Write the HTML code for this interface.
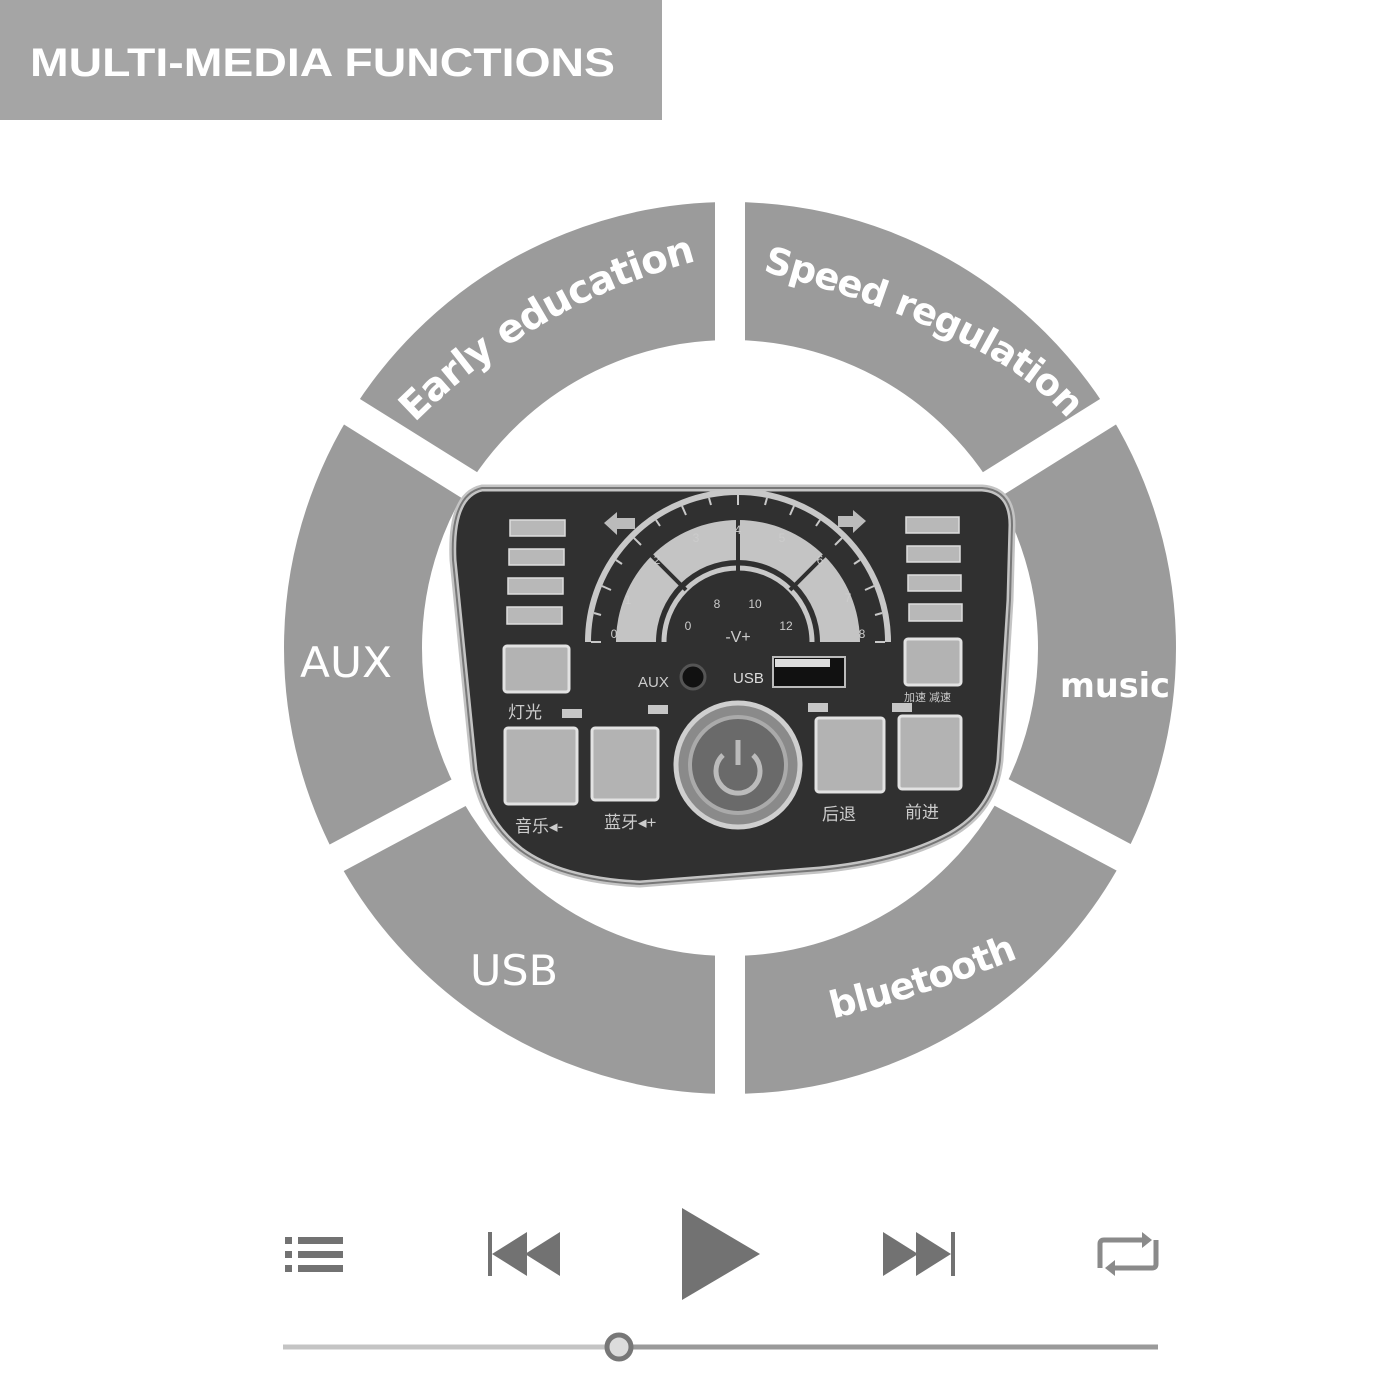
<!DOCTYPE html>
<html><head><meta charset="utf-8"><style>
html,body{margin:0;padding:0;background:#fff;width:1400px;height:1400px;overflow:hidden}
svg{display:block}
</style></head><body>
<svg width="1400" height="1400" viewBox="0 0 1400 1400" xmlns="http://www.w3.org/2000/svg" font-family="'Liberation Sans','Noto Sans CJK SC',sans-serif">
<rect width="1400" height="1400" fill="#fff"/>
<rect x="0" y="0" width="662" height="120" fill="#a5a5a5"/>
<text x="30" y="76" font-size="40" font-weight="bold" fill="#fff" textLength="585" lengthAdjust="spacingAndGlyphs">MULTI-MEDIA FUNCTIONS</text>

<!-- ring -->
<circle cx="730" cy="648" r="377" fill="none" stroke="#9b9b9b" stroke-width="138"/>
<g stroke="#fff" stroke-width="30">
<line x1="730" y1="648" x2="730" y2="180"/>
<line x1="730" y1="648" x2="730" y2="1120"/>
<line x1="730" y1="648" x2="330" y2="398"/>
<line x1="730" y1="648" x2="310" y2="872"/>
<line x1="730" y1="648" x2="1130" y2="398"/>
<line x1="730" y1="648" x2="1140" y2="866"/>
</g>
<defs>
<path id="pEarly" d="M 400 438 Q 530 300 716 256"/>
<path id="pSpeed" d="M 758 270 Q 999 333 1070 422"/>
<path id="pBlue" d="M 818 1022 Q 925 998 1032 952"/>
</defs>
<g font-weight="bold" fill="#fff" text-anchor="middle" font-family="'DejaVu Sans',sans-serif">
<text font-size="39" letter-spacing="-1"><textPath href="#pEarly" startOffset="50%">Early education</textPath></text>
<text font-size="37" letter-spacing="-1"><textPath href="#pSpeed" startOffset="50%">Speed regulation</textPath></text>
<text font-size="37" letter-spacing="-1"><textPath href="#pBlue" startOffset="50%">bluetooth</textPath></text>
</g>
<text x="300" y="677" font-size="42" fill="#fff" font-family="'DejaVu Sans',sans-serif" textLength="92" lengthAdjust="spacingAndGlyphs">AUX</text>
<text x="470" y="985" font-size="42" fill="#fff" font-family="'DejaVu Sans',sans-serif" textLength="88" lengthAdjust="spacingAndGlyphs">USB</text>
<text x="1060" y="697" font-size="34" font-weight="bold" fill="#fff" font-family="'DejaVu Sans',sans-serif" textLength="110" lengthAdjust="spacingAndGlyphs">music</text>

<!-- panel -->
<path d="M 482 488 L 982 488 Q 1012 490 1012 525 L 1010 600 L 1000 760 Q 995 810 950 835 Q 900 862 820 870 L 640 884 Q 560 880 520 850 Q 482 820 474 770 L 453 560 Q 450 495 482 488 Z" fill="#303030" stroke="#c4c4c4" stroke-width="7"/>
<path d="M 482 488 L 982 488 Q 1012 490 1012 525 L 1010 600 L 1000 760 Q 995 810 950 835 Q 900 862 820 870 L 640 884 Q 560 880 520 850 Q 482 820 474 770 L 453 560 Q 450 495 482 488 Z" fill="none" stroke="#777" stroke-width="2"/>

<!-- bars -->
<g fill="#b8b8b8" stroke="#ddd" stroke-width="1.5">
<rect x="510" y="520" width="55" height="16"/><rect x="509" y="549" width="55" height="16"/><rect x="508" y="578" width="55" height="16"/><rect x="507" y="607" width="55" height="17"/>
<rect x="906" y="517" width="53" height="16"/><rect x="907" y="546" width="53" height="16"/><rect x="908" y="575" width="53" height="16"/><rect x="909" y="604" width="53" height="17"/>
</g>
<!-- arrows -->
<path d="M 604 523 L 617 512 L 617 518 L 635 518 L 635 529 L 617 529 L 617 535 Z" fill="#bbb"/>
<path d="M 866 521 L 853 510 L 853 516 L 838 516 L 838 527 L 853 527 L 853 533 Z" fill="#bbb"/>

<!-- gauge -->
<g transform="translate(738,642)">
<path d="M -150 0 A 150 150 0 0 1 150 0" fill="none" stroke="#c8c8c8" stroke-width="6"/>
<path d="M -122 0 A 122 122 0 0 1 122 0 L 82 0 A 82 82 0 0 0 -82 0 Z" fill="#c4c4c4"/>
<path d="M -74 0 A 74 74 0 0 1 74 0" fill="none" stroke="#c8c8c8" stroke-width="5"/>
<g stroke="#303030" stroke-width="4">
<line x1="0" y1="-70" x2="0" y2="-126"/>
<line x1="-52" y1="-52" x2="-88" y2="-88"/>
<line x1="52" y1="-52" x2="88" y2="-88"/>
</g>
<g stroke="#c8c8c8" stroke-width="2">
<line x1="0" y1="-147" x2="0" y2="-137"/><line x1="-56" y1="-136" x2="-52" y2="-127"/><line x1="56" y1="-136" x2="52" y2="-127"/>
<line x1="-104" y1="-104" x2="-97" y2="-97"/><line x1="104" y1="-104" x2="97" y2="-97"/>
<line x1="-136" y1="-56" x2="-127" y2="-52"/><line x1="136" y1="-56" x2="127" y2="-52"/>
<line x1="-147" y1="0" x2="-137" y2="0"/><line x1="147" y1="0" x2="137" y2="0"/>
<line x1="-29" y1="-144" x2="-27" y2="-137"/><line x1="29" y1="-144" x2="27" y2="-137"/>
<line x1="-82" y1="-122" x2="-78" y2="-116"/><line x1="82" y1="-122" x2="78" y2="-116"/>
<line x1="-122" y1="-82" x2="-116" y2="-78"/><line x1="122" y1="-82" x2="116" y2="-78"/>
<line x1="-144" y1="-29" x2="-137" y2="-27"/><line x1="144" y1="-29" x2="137" y2="-27"/>
</g>
<g font-size="12" fill="#ccc" text-anchor="middle">
<text x="-124" y="-4">0</text><text x="-110" y="-38">1</text><text x="-81" y="-78">2</text><text x="-42" y="-100">3</text><text x="0" y="-108">4</text><text x="44" y="-100">5</text><text x="82" y="-78">6</text><text x="110" y="-40">7</text><text x="124" y="-4">8</text>
<text x="-50" y="-12">0</text><text x="-21" y="-34">8</text><text x="17" y="-34">10</text><text x="48" y="-12">12</text>
</g>
<text x="0" y="0" font-size="16" fill="#ccc" text-anchor="middle">-V+</text>
</g>

<!-- aux usb -->
<text x="638" y="687" font-size="15" fill="#ccc">AUX</text>
<circle cx="693" cy="677" r="12" fill="#111" stroke="#555" stroke-width="3"/>
<text x="733" y="683" font-size="15" fill="#ddd">USB</text>
<rect x="773" y="657" width="72" height="30" fill="#111" stroke="#bbb" stroke-width="2"/>
<rect x="775" y="659" width="55" height="8" fill="#ddd"/>

<!-- buttons -->
<g fill="#b3b3b3" stroke="#e2e2e2" stroke-width="3">
<rect x="504" y="646" width="65" height="46" rx="3"/>
<rect x="905" y="639" width="56" height="46" rx="3"/>
<rect x="505" y="728" width="72" height="76" rx="3"/>
<rect x="592" y="728" width="66" height="72" rx="3"/>
<rect x="816" y="718" width="68" height="74" rx="3"/>
<rect x="899" y="716" width="62" height="73" rx="3"/>
</g>
<g fill="#c6c6c6">
<rect x="562" y="709" width="20" height="9"/><rect x="648" y="705" width="20" height="9"/><rect x="808" y="703" width="20" height="9"/><rect x="892" y="703" width="20" height="9"/>
</g>
<circle cx="738" cy="765" r="62" fill="#8a8a8a" stroke="#cfcfcf" stroke-width="5"/>
<circle cx="738" cy="765" r="48" fill="#6a6a6a" stroke="#aaa" stroke-width="4"/>
<path d="M 723 755 A 22 22 0 1 0 753 755" fill="none" stroke="#bbb" stroke-width="5"/>
<line x1="738" y1="740" x2="738" y2="765" stroke="#bbb" stroke-width="5"/>

<g font-size="17" fill="#ccc">
<text x="508" y="718">灯光</text>
<text x="515" y="832">音乐◂-</text>
<text x="604" y="828">蓝牙◂+</text>
<text x="822" y="820">后退</text>
<text x="905" y="818">前进</text>
<text x="904" y="701" font-size="11">加速 减速</text>
</g>

<!-- playback -->
<g fill="#727272">
<rect x="285" y="1237" width="7" height="7"/><rect x="298" y="1237" width="45" height="7"/>
<rect x="285" y="1251" width="7" height="7"/><rect x="298" y="1251" width="45" height="7"/>
<rect x="285" y="1265" width="7" height="7"/><rect x="298" y="1265" width="45" height="7"/>
<rect x="488" y="1232" width="4" height="44"/>
<polygon points="492,1254 527,1232 527,1276"/><polygon points="525,1254 560,1232 560,1276"/>
<polygon points="682,1208 682,1300 760,1254"/>
<polygon points="883,1232 918,1254 883,1276"/><polygon points="916,1232 951,1254 916,1276"/>
<rect x="951" y="1232" width="4" height="44"/>
</g>
<g fill="none" stroke="#8a8a8a" stroke-width="5">
<path d="M 1100 1268 L 1100 1244 Q 1100 1240 1104 1240 L 1145 1240"/>
<path d="M 1156 1240 L 1156 1264 Q 1156 1268 1152 1268 L 1112 1268"/>
</g>
<polygon points="1142,1232 1152,1240 1142,1248" fill="#8a8a8a"/>
<polygon points="1115,1260 1105,1268 1115,1276" fill="#8a8a8a"/>
<line x1="283" y1="1347" x2="610" y2="1347" stroke="#c4c4c4" stroke-width="5"/>
<line x1="628" y1="1347" x2="1158" y2="1347" stroke="#9a9a9a" stroke-width="5"/>
<circle cx="619" cy="1347" r="12" fill="#dcdcdc" stroke="#777" stroke-width="5"/>
</svg>
</body></html>
